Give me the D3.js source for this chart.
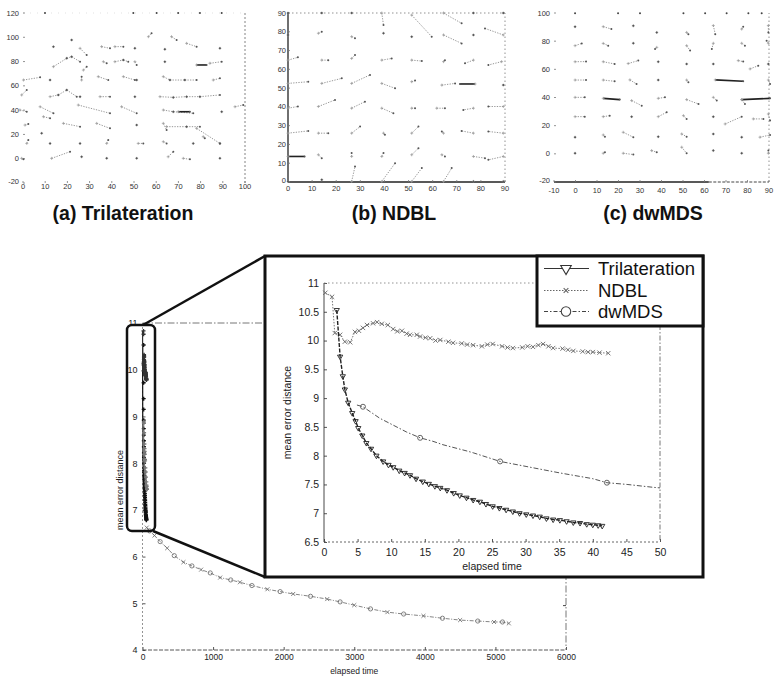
<!DOCTYPE html>
<html><head><meta charset="utf-8">
<script src="https://cdn.jsdelivr.net/npm/d3@7"></script>
<style>body{margin:0;background:#fff}svg{display:block}</style>
</head><body><svg id="c" width="775" height="678"></svg>
<script>
// ---------------- DATA ----------------
// Top panels: localisation links [trueX, trueY, estimatedX, estimatedY]
const panelATicksX = [0,10,20,30,40,50,60,70,80,90,100];
const panelATicksY = [-20,0,20,40,60,80,100,120];
const panelALinks = [
[21.9,97.8,21.9,97.8],[13.7,92.3,13.7,92.3],[25.7,90.9,28.7,85.4],[35.4,92.3,39.2,90.9],[41.4,92.3,45.2,92.3],[50.4,90.9,50.4,90.9],[63.9,90.1,63.9,90.1],[73.7,95.0,78.2,92.3],[88.7,90.9,88.7,90.9],[56.5,100.5,57.9,103.3],[66.9,100.5,69.2,97.8],
[13.7,75.8,19.7,82.7],[19.7,82.7,21.9,84.0],[21.9,84.0,25.7,79.9],[27.2,73.0,28.7,75.8],[36.2,79.9,37.7,78.6],[41.4,79.9,45.2,81.3],[45.2,81.3,47.4,79.9],[50.4,79.9,51.2,77.2],[63.9,79.9,63.9,79.9],[84.2,78.6,89.5,79.9],
[0.2,64.8,7.7,67.0],[12.2,64.8,12.2,64.8],[26.4,64.8,26.4,67.6],[33.9,67.6,38.4,64.8],[45.2,67.6,50.4,64.8],[51.2,64.8,51.2,64.8],[63.2,67.6,66.2,64.8],[66.2,64.8,72.9,64.8],[72.9,64.8,78.2,64.8],[85.7,64.8,88.7,66.2],
[-0.6,52.5,1.7,56.6],[12.2,51.1,15.9,52.5],[15.9,52.5,19.7,56.6],[19.7,56.6,24.2,51.1],[25.7,51.1,25.7,51.1],[34.7,51.1,39.2,51.1],[50.4,51.1,50.4,51.1],[61.7,51.1,67.7,50.5],[67.7,50.5,73.7,51.1],[73.7,51.1,79.7,51.1],[79.7,51.1,88.7,52.5],
[-1.4,40.1,1.7,38.7],[7.7,42.8,13.7,37.4],[24.9,44.2,39.2,37.4],[44.4,42.8,51.2,37.4],[63.2,40.1,67.7,38.7],[67.7,38.7,76.7,37.4],[89.5,38.7,89.5,38.7],[95.5,42.8,99.2,44.2],
[0.9,27.7,2.4,28.6],[9.2,34.6,12.2,33.3],[18.2,29.1,25.7,26.4],[33.2,29.1,39.2,25.0],[51.2,27.7,51.2,27.7],[63.2,29.1,64.7,23.6],[64.7,26.4,73.7,26.4],[73.7,26.4,79.7,26.4],[78.2,25.0,88.7,12.6],
[1.7,12.6,2.4,15.4],[8.4,20.9,8.4,20.9],[12.2,12.6,12.2,12.6],[25.7,12.6,25.7,12.6],[37.7,12.6,38.4,15.4],[51.9,12.6,54.2,12.6],[63.2,14.0,64.7,12.6],[76.7,12.6,76.7,12.6],[81.2,18.1,81.9,16.8],[88.7,12.6,88.7,12.6],
[-0.6,0.3,0.2,-0.5],[12.9,0.3,21.2,5.8],[26.4,1.6,26.4,1.6],[37.7,0.3,37.7,0.3],[51.2,0.3,51.2,0.3],[65.4,1.6,67.7,5.8],[72.2,0.3,75.2,-0.5],[88.7,0.3,88.7,0.3]
];
const panelAStrong = [[78.2,77.2,82.7,77.2],[69.9,38.7,75.2,38.7]];
const panelAEdge = [[9.9,120],[49.7,120],[60.2,120],[69.9,120],[79.7,120],[89.5,120]];

const panelBTicksX = [0,10,20,30,40,50,60,70,80,90];
const panelBTicksY = [0,10,20,30,40,50,60,70,80,90];
const panelBLinks = [
[0,90,0,90],[14,90,14,90],[26.4,90,26.4,90],[38.9,90,39.6,83.6],[51.3,88.9,59.6,77.4],[64.5,90,72,84.5],[76.9,90,76.9,90],[89.3,90,89.3,90],
[0,78.3,0,78.3],[12.6,79.2,14,80],[26.4,77.4,27.8,76.5],[39.6,79.2,39.6,79.2],[51.3,77.4,51.3,77.4],[64.5,78.3,72,73.8],[76.9,78.3,76.9,78.3],[89.3,78.3,81.7,81.8],
[0,64.9,4.1,66.4],[14,64.9,16.7,64.9],[26.4,65.8,27.8,67.6],[38.9,64.9,43,65.8],[51.3,64.9,55.5,64.4],[64.5,64.1,65.1,64.9],[76.9,64.9,73.4,63.2],[88.6,64.1,83.1,62.3],
[0,52.5,8.4,53.4],[14,52.5,22.3,55.2],[26.4,52.5,34,57],[38.9,52.5,44.4,49.9],[51.3,53.4,52.7,54],[63.8,51.6,69.3,52.5],[89.3,51.6,89.3,51.6],
[0,39.3,4.1,40.2],[12.6,40.2,19.5,43.7],[26.4,39.3,31.9,42.8],[38.9,39.3,43.7,36.6],[51.3,39.3,52.7,39.3],[61.7,39.3,65.1,39.3],[76.9,39.3,72.7,38.4],[89.3,40.2,83.1,40.2],
[0,26,8.4,27.2],[12.6,26,16.7,26],[26.4,26,29.9,29.5],[39.6,26,40.2,25.1],[51.3,26,54.1,29.5],[64.5,26,63.8,26.9],[76.9,26,72,27.2],[89.3,26,83.1,26.9],
[12.6,14.5,14,12.7],[26.4,13.6,26.4,15.4],[38.9,13.6,39.6,15.4],[51.3,14.5,54.1,18],[63.8,14.5,65.1,13.6],[76.9,13.6,81.7,12.7],[89.3,13.6,83.1,11.8],
[0,0.3,0,0.3],[14,1.2,14,1.2],[26.4,0.3,27.8,8.3],[38.9,0.3,44.4,10],[51.3,0.3,55.5,7.4],[64.5,0.3,67.9,7.4],[76.9,0.3,76.9,0.3],[89.3,0.3,89.3,0.3]
];
const panelBStrong = [[77.6,52.2,71.3,52.2],[0,13.6,6.9,13.6]];
const panelBEdge = [];

const panelCTicksX = [-10,0,10,20,30,40,50,60,70,80,90];
const panelCTicksY = [-20,0,20,40,60,80,100];
const panelCLinks = [
[-0.2,90.3,-0.2,90.3],[12.9,90.3,16.7,88.6],[26.9,90.9,26.9,90.9],[37.8,86.2,37.8,86.2],[51.7,86.2,52.5,85.0],[64.1,91.1,65.0,85.0],[77.3,88.6,78.0,90.3],[89.7,91.1,89.7,86.2],
[-0.2,76.8,2.9,78.4],[12.9,78.4,15.2,76.8],[26.9,78.5,26.9,78.5],[37.8,75.6,37.0,74.5],[51.7,76.8,53.3,73.3],[64.1,78.5,63.4,74.5],[77.3,78.5,78.8,76.8],[89.7,78.5,88.9,80.3],
[-0.2,65.4,4.9,65.5],[12.9,65.4,18.2,63.8],[24.5,64.1,29.2,66.2],[38.5,65.4,38.5,65.4],[51.7,63.8,51.7,63.8],[64.1,63.8,64.1,63.8],[75.7,66.2,78.0,65.5],[81.2,60.3,85.0,62.6],[89.7,63.8,89.7,63.8],
[-0.2,52.4,4.9,52.4],[12.9,52.4,18.2,51.5],[25.3,52.5,28.4,49.6],[38.5,52.4,38.5,52.4],[51.7,52.4,52.5,50.8],[89.7,52.4,90.5,49.6],
[-0.2,40.1,4.3,40.1],[26.1,37.8,30.8,34.2],[38.5,39.4,41.6,40.1],[51.7,38.5,57.2,35.4],[64.1,40.1,65.7,37.8],[77.3,38.5,78.8,35.4],
[-0.2,26.4,4.3,26.4],[12.9,26.4,15.9,27.1],[26.1,26.4,26.1,26.4],[38.5,26.4,42.4,29.5],[50.2,27.1,51.7,24.8],[64.1,26.4,64.1,26.4],[69.6,21.2,77.3,26.4],[82.7,24.8,87.4,24.8],[89.7,28.3,90.5,23.6],
[-0.2,11.8,-0.2,11.8],[12.9,13.4,13.7,12.2],[22.2,15.3,26.9,11.8],[38.5,12.2,38.5,12.2],[49.4,14.1,51.7,12.2],[64.1,14.1,64.1,14.1],[77.3,11.8,77.3,11.8],[85.8,11.8,90.5,13.4],
[-0.2,0.4,-0.2,0.4],[12.9,0.4,13.7,1.2],[22.2,0.4,26.9,-0.5],[35.4,2.3,37.8,1.2],[49.4,4.7,51.7,0.4],[64.1,2.3,64.1,2.3],[77.3,0.4,77.3,0.4],[89.7,0.4,89.7,2.3]
];
const panelCStrong = [[65.0,52.5,78.0,51.5],[12.9,39.4,20.6,38.5],[77.3,38.5,90.5,39.4]];
const panelCEdge = [[-0.2,99.8],[19.8,99.8],[30,99.8],[50.2,99.8],[60.3,99.8],[70.3,99.8],[80.4,99.8],[86.6,99.8]];

const panelTitles = ["(a) Trilateration", "(b) NDBL", "(c) dwMDS"];

// Bottom chart: mean error distance vs elapsed time
const seriesNames = ["Trilateration", "NDBL", "dwMDS"];
const trilaterationSeries = [[1.9,10.53],[2.4,9.72],[2.8,9.38],[3.1,9.15],[3.6,8.92],[4.2,8.74],[4.7,8.6],[5.1,8.48],[5.7,8.35],[6.3,8.22],[7.0,8.12],[7.8,8.0],[8.8,7.9],[9.6,7.84],[10.3,7.8],[11.2,7.74],[12.0,7.7],[12.8,7.66],[13.7,7.6],[14.7,7.55],[15.6,7.51],[16.5,7.47],[17.3,7.44],[18.3,7.4],[19.3,7.35],[20.2,7.31],[21.2,7.27],[22.2,7.23],[23.2,7.2],[24.1,7.16],[25.1,7.12],[26.1,7.09],[27.1,7.06],[28.1,7.03],[29.1,7.0],[30.1,6.98],[31.1,6.96],[32.1,6.94],[33.1,6.91],[34.1,6.89],[35.1,6.88],[36.1,6.86],[37.1,6.84],[38.1,6.83],[39.1,6.81],[40.0,6.8],[40.8,6.79],[41.4,6.78]];
const ndblSeries = [[0.2,10.83],[1.2,10.76],[1.6,10.13],[2.4,10.1],[3.1,9.98],[3.9,9.97],[4.6,10.15],[5.2,10.17],[5.8,10.22],[6.4,10.27],[7.3,10.3],[7.9,10.32],[8.6,10.29],[9.5,10.27],[10.3,10.2],[10.9,10.16],[11.6,10.17],[12.3,10.12],[12.8,10.1],[13.8,10.1],[14.3,10.07],[15.1,10.05],[15.8,10.04],[16.6,10.0],[17.3,10.01],[18.5,9.98],[19.2,9.96],[20.5,9.95],[21.3,9.93],[22.2,9.92],[23.5,9.9],[24.3,9.93],[25.1,9.94],[26.5,9.9],[27.3,9.88],[28.1,9.87],[29.5,9.88],[30.3,9.9],[31.1,9.89],[31.9,9.92],[32.6,9.94],[33.4,9.9],[34.1,9.87],[35.5,9.86],[36.3,9.84],[37.1,9.82],[38.5,9.81],[39.3,9.8],[40,9.8],[41,9.79],[42.3,9.78]];
const dwmdsSeries = [[4.9,8.88],[5.8,8.85],[8.3,8.65],[12.3,8.41],[14.3,8.31],[16.2,8.25],[17.7,8.19],[21.3,8.08],[22.2,8.05],[26.2,7.9],[30.2,7.81],[35.1,7.7],[40,7.6],[42.1,7.53],[45.1,7.5],[49,7.45],[50,7.44]];
const dwmdsMarked = [[5.8,8.85],[14.3,8.31],[26.2,7.9],[42.1,7.53]];
const longRunSeries = [[60,6.62],[100,6.55],[170,6.45],[250,6.32],[350,6.18],[450,6.02],[580,5.88],[700,5.8],[830,5.72],[960,5.65],[1100,5.55],[1250,5.5],[1380,5.45],[1550,5.38],[1770,5.3],[1950,5.25],[2135,5.2],[2380,5.15],[2617,5.09],[2800,5.03],[3000,4.96],[3230,4.88],[3470,4.81],[3700,4.77],[3980,4.73],[4250,4.68],[4500,4.64],[4750,4.62],[4980,4.6],[5100,4.6],[5190,4.57]];

const mainTicksX = [0,1000,2000,3000,4000,5000,6000];
const mainTicksY = [4,5,6,7,8,9,10,11];
const insetTicksX = [0,5,10,15,20,25,30,35,40,45,50];
const insetTicksY = [6.5,7,7.5,8,8.5,9,9.5,10,10.5,11];
const axisTitleX = "elapsed time";
const axisTitleY = "mean error distance";

// ---------------- DRAWING ----------------
const FONT = "Arial, 'Liberation Sans', sans-serif";
const svg = d3.select("#c").attr("font-family", FONT);

function topPanel(o) {
  const g = svg.append("g");
  const x = o.x, y = o.y;
  const [x0, x1] = x.range(), [yb, yt] = y.range();
  o.borders.forEach(b => {
    g.append("line").attr("x1", b.x1).attr("y1", b.y1).attr("x2", b.x2).attr("y2", b.y2)
      .attr("stroke", b.c).attr("stroke-width", b.w).attr("stroke-dasharray", b.d || null);
  });
  o.ticksX.forEach(t => {
    g.append("line").attr("x1", x(t)).attr("x2", x(t)).attr("y1", yb).attr("y2", yb - 2).attr("stroke", "#777").attr("stroke-width", 0.8);
    g.append("text").attr("x", x(t)).attr("y", o.xLabelY).attr("text-anchor", "middle")
      .attr("font-size", 7.5).attr("fill", "#333").text(String(t));
  });
  o.ticksY.forEach(t => {
    g.append("line").attr("x1", x0).attr("x2", x0 + 2).attr("y1", y(t)).attr("y2", y(t)).attr("stroke", "#777").attr("stroke-width", 0.8);
    g.append("text").attr("x", o.yLabelX).attr("y", y(t) + (t === o.ticksY[0] ? 1 : 2.6)).attr("text-anchor", "end")
      .attr("font-size", 7.5).attr("fill", "#333").text(String(t));
  });
  g.selectAll(".lk").data(o.links.filter(d => d[0] !== d[2] || d[1] !== d[3])).join("line")
    .attr("x1", d => x(d[0])).attr("y1", d => y(d[1])).attr("x2", d => x(d[2])).attr("y2", d => y(d[3]))
    .attr("stroke", "#8c8c8c").attr("stroke-width", 0.9).attr("stroke-dasharray", "1.3,1.3");
  g.selectAll(".st").data(o.strong).join("line")
    .attr("x1", d => x(d[0])).attr("y1", d => y(d[1])).attr("x2", d => x(d[2])).attr("y2", d => y(d[3]))
    .attr("stroke", "#222").attr("stroke-width", 1.6);
  g.selectAll(".tn").data(o.links.concat(o.strong)).join("path")
    .attr("d", d => `M${x(d[0]) - 1.5},${y(d[1])}h3M${x(d[0])},${y(d[1]) - 1.5}v3`)
    .attr("stroke", "#999").attr("stroke-width", 0.7);
  g.selectAll(".en").data(o.links.concat(o.strong)).join("circle")
    .attr("cx", d => x(d[2])).attr("cy", d => y(d[3])).attr("r", 1).attr("fill", "#555");
  g.selectAll(".ed").data(o.edge).join("circle")
    .attr("cx", d => x(d[0])).attr("cy", d => y(d[1])).attr("r", 1).attr("fill", "#444");
  svg.append("text").attr("x", o.titleX).attr("y", 220).attr("text-anchor", "middle")
    .attr("font-size", 19.5).attr("font-weight", "bold").attr("fill", "#111").text(o.title);
}

const ax = d3.scaleLinear([0, 100], [23, 245]), ay = d3.scaleLinear([-20, 120], [183, 13]);
topPanel({x: ax, y: ay, ticksX: panelATicksX, ticksY: panelATicksY, links: panelALinks, strong: panelAStrong, edge: panelAEdge,
  xLabelY: 189, yLabelX: 19, title: panelTitles[0], titleX: 123,
  borders: [{x1: ax(100), y1: ay(120), x2: ax(100), y2: ay(-20), c: "#666", w: 0.8, d: "2,2"},
            {x1: ax(0), y1: ay(120), x2: ax(100), y2: ay(120), c: "#ccc", w: 0.6, d: "1,6"}]});

const bx = d3.scaleLinear([0, 90], [288, 505]), by = d3.scaleLinear([0, 90], [182, 13]);
topPanel({x: bx, y: by, ticksX: panelBTicksX, ticksY: panelBTicksY, links: panelBLinks, strong: panelBStrong, edge: panelBEdge,
  xLabelY: 191, yLabelX: 286, title: panelTitles[1], titleX: 394,
  borders: [{x1: bx(0), y1: by(0), x2: bx(0), y2: by(90), c: "#222", w: 1.3},
            {x1: bx(0), y1: by(0), x2: bx(90), y2: by(0), c: "#222", w: 1.5},
            {x1: bx(0), y1: by(90), x2: bx(90), y2: by(90), c: "#777", w: 0.8, d: "1.5,2.5"},
            {x1: bx(90), y1: by(0), x2: bx(90), y2: by(90), c: "#777", w: 0.8, d: "1.5,2.5"}]});

const cx = d3.scaleLinear([-10, 90], [554, 769]), cy = d3.scaleLinear([-20, 100], [182, 13]);
topPanel({x: cx, y: cy, ticksX: panelCTicksX, ticksY: panelCTicksY, links: panelCLinks, strong: panelCStrong, edge: panelCEdge,
  xLabelY: 193, yLabelX: 550, title: panelTitles[2], titleX: 653,
  borders: [{x1: cx(-10), y1: cy(-20), x2: cx(62), y2: cy(-20), c: "#222", w: 1.4},
            {x1: cx(62), y1: cy(-20), x2: cx(90), y2: cy(-20), c: "#444", w: 1, d: "3,1.5"},
            {x1: cx(90), y1: cy(-20), x2: cx(90), y2: cy(100), c: "#777", w: 0.8, d: "1.5,2.5"}]});

// ---------- main chart ----------
const mx = d3.scaleLinear([0, 6000], [142.5, 566]);
const my = d3.scaleLinear([4, 11], [650, 323]);
const main = svg.append("g");

main.append("g").attr("transform", "translate(0,650)")
  .call(d3.axisBottom(mx).tickValues(mainTicksX).tickSize(-3).tickPadding(4).tickFormat(d => String(d)))
  .call(g => g.select(".domain").remove())
  .call(g => g.selectAll("line").attr("stroke", "#555"))
  .call(g => g.selectAll("text").attr("font-size", 8.5).attr("fill", "#222").attr("font-family", FONT));
main.append("g").attr("transform", "translate(142.5,0)")
  .call(d3.axisLeft(my).tickValues(mainTicksY).tickSize(-3).tickPadding(5).tickFormat(d => String(d)))
  .call(g => g.select(".domain").remove())
  .call(g => g.selectAll("line").attr("stroke", "#555"))
  .call(g => g.selectAll("text").attr("font-size", 9).attr("fill", "#222").attr("font-family", FONT));

main.append("line").attr("x1", mx(0)).attr("x2", mx(0)).attr("y1", my(11)).attr("y2", my(4)).attr("stroke", "#888").attr("stroke-width", 0.9).attr("stroke-dasharray", "2,2");
main.append("line").attr("x1", mx(0)).attr("x2", mx(6000)).attr("y1", my(4)).attr("y2", my(4)).attr("stroke", "#444").attr("stroke-width", 0.9).attr("stroke-dasharray", "4,1.5");
main.append("line").attr("x1", mx(0)).attr("x2", mx(6000)).attr("y1", my(11)).attr("y2", my(11)).attr("stroke", "#666").attr("stroke-width", 0.9).attr("stroke-dasharray", "7,2,1.5,2");
main.append("line").attr("x1", mx(6000)).attr("x2", mx(6000)).attr("y1", my(11)).attr("y2", my(4)).attr("stroke", "#666").attr("stroke-width", 0.9).attr("stroke-dasharray", "7,2,1.5,2");
main.append("line").attr("x1", mx(6000)).attr("x2", mx(6000) - 3).attr("y1", my(4.95)).attr("y2", my(4.95)).attr("stroke", "#444");

main.append("text").attr("x", (mx(0) + mx(6000)) / 2).attr("y", 674).attr("text-anchor", "middle")
  .attr("font-size", 8.5).attr("fill", "#222").text(axisTitleX);
main.append("text").attr("transform", "translate(123,490) rotate(-90)").attr("text-anchor", "middle")
  .attr("font-size", 9).attr("fill", "#222").text(axisTitleY);

const lineM = d3.line().x(d => mx(d[0])).y(d => my(d[1]));
main.append("path").attr("d", lineM(longRunSeries)).attr("fill", "none").attr("stroke", "#777").attr("stroke-width", 0.9).attr("stroke-dasharray", "4,1.5,1,1.5");
main.selectAll(".lm").data(longRunSeries).join("path")
  .attr("d", (d, i) => i % 2 ? d3.symbol(d3.symbolCircle, 14)() : d3.symbol(d3.symbolX, 12)())
  .attr("transform", d => `translate(${mx(d[0])},${my(d[1])})`)
  .attr("fill", "none").attr("stroke", "#666").attr("stroke-width", 0.8);
[[trilaterationSeries, "#111"], [ndblSeries, "#333"], [dwmdsSeries, "#777"]].forEach(([s, c]) => {
  main.append("path").attr("d", lineM(s)).attr("fill", "none").attr("stroke", c).attr("stroke-width", 1.2);
  main.selectAll(null).data(s).join("path")
    .attr("d", d3.symbol(d3.symbolCross, 9)())
    .attr("transform", d => `translate(${mx(d[0]) + 1},${my(d[1])})`)
    .attr("fill", c);
});

main.append("rect").attr("x", 127).attr("y", 325).attr("width", 28).attr("height", 206).attr("rx", 5)
  .attr("fill", "none").attr("stroke", "#111").attr("stroke-width", 2.5);
main.append("line").attr("x1", 143).attr("y1", 325).attr("x2", 265).attr("y2", 256).attr("stroke", "#111").attr("stroke-width", 2.5);
main.append("line").attr("x1", 153).attr("y1", 531).attr("x2", 265).attr("y2", 577).attr("stroke", "#111").attr("stroke-width", 2.5);

// ---------- inset ----------
const inset = svg.append("g");
inset.append("rect").attr("x", 265).attr("y", 256).attr("width", 438).attr("height", 321)
  .attr("fill", "#fff").attr("stroke", "#111").attr("stroke-width", 3);
const ix = d3.scaleLinear([0, 50], [324, 660]);
const iy = d3.scaleLinear([6.5, 11], [542, 283]);

inset.append("g").attr("transform", "translate(0,542)")
  .call(d3.axisBottom(ix).tickValues(insetTicksX).tickSize(-3).tickPadding(7).tickFormat(d => String(d)))
  .call(g => g.select(".domain").remove())
  .call(g => g.selectAll("line").attr("stroke", "#555"))
  .call(g => g.selectAll("text").attr("font-size", 10.5).attr("fill", "#222").attr("font-family", FONT));
inset.append("g").attr("transform", "translate(324,0)")
  .call(d3.axisLeft(iy).tickValues(insetTicksY).tickSize(-3).tickPadding(5).tickFormat(d => String(d)))
  .call(g => g.select(".domain").remove())
  .call(g => g.selectAll("line").attr("stroke", "#555"))
  .call(g => g.selectAll("text").attr("font-size", 10.5).attr("fill", "#222").attr("font-family", FONT));
inset.append("line").attr("x1", ix(0)).attr("x2", ix(0)).attr("y1", iy(11)).attr("y2", iy(6.5)).attr("stroke", "#333").attr("stroke-width", 0.9);
inset.append("line").attr("x1", ix(0)).attr("x2", ix(50)).attr("y1", iy(6.5)).attr("y2", iy(6.5)).attr("stroke", "#555").attr("stroke-width", 0.9).attr("stroke-dasharray", "2,2");
inset.append("line").attr("x1", ix(0)).attr("x2", ix(50)).attr("y1", iy(11)).attr("y2", iy(11)).attr("stroke", "#888").attr("stroke-width", 0.9).attr("stroke-dasharray", "1.5,2.5");
inset.append("line").attr("x1", ix(50)).attr("x2", ix(50)).attr("y1", iy(11)).attr("y2", iy(6.5)).attr("stroke", "#666").attr("stroke-width", 0.9).attr("stroke-dasharray", "5,2,1.5,2");

inset.append("text").attr("x", (ix(0) + ix(50)) / 2).attr("y", 570).attr("text-anchor", "middle")
  .attr("font-size", 10.5).attr("fill", "#222").text(axisTitleX);
inset.append("text").attr("transform", `translate(291,${(iy(6.5) + iy(11)) / 2}) rotate(-90)`).attr("text-anchor", "middle")
  .attr("font-size", 10.5).attr("fill", "#222").text(axisTitleY);

const lineI = d3.line().x(d => ix(d[0])).y(d => iy(d[1]));
inset.append("path").attr("d", lineI(ndblSeries)).attr("fill", "none").attr("stroke", "#777").attr("stroke-width", 1).attr("stroke-dasharray", "1.5,1.5");
inset.selectAll(".nm").data(ndblSeries).join("path")
  .attr("d", d3.symbol(d3.symbolX, 14)()).attr("transform", d => `translate(${ix(d[0])},${iy(d[1])})`)
  .attr("fill", "none").attr("stroke", "#666").attr("stroke-width", 0.9);
inset.append("path").attr("d", lineI(dwmdsSeries)).attr("fill", "none").attr("stroke", "#555").attr("stroke-width", 1).attr("stroke-dasharray", "5,2,1.5,2");
inset.selectAll(".dm").data(dwmdsMarked).join("circle")
  .attr("cx", d => ix(d[0])).attr("cy", d => iy(d[1])).attr("r", 2.5)
  .attr("fill", "none").attr("stroke", "#555").attr("stroke-width", 0.9);
inset.append("path").attr("d", lineI(trilaterationSeries)).attr("fill", "none").attr("stroke", "#222").attr("stroke-width", 1.4).attr("stroke-dasharray", "4,1.5");
inset.selectAll(".tm").data(trilaterationSeries).join("path")
  .attr("d", d3.symbol(d3.symbolTriangle, 12)()).attr("transform", d => `translate(${ix(d[0])},${iy(d[1])}) rotate(180)`)
  .attr("fill", "none").attr("stroke", "#222").attr("stroke-width", 0.9);

// legend
const leg = svg.append("g");
leg.append("rect").attr("x", 537).attr("y", 256).attr("width", 166).attr("height", 70)
  .attr("fill", "#fff").attr("stroke", "#111").attr("stroke-width", 3);
const legStyles = [
  {dash: null, c: "#333", w: 1.2, sym: d3.symbol(d3.symbolTriangle, 48)(), rot: 180},
  {dash: "1.5,1.5", c: "#666", w: 1, sym: d3.symbol(d3.symbolX, 16)(), rot: 0},
  {dash: "4,2,1.5,2", c: "#444", w: 1, sym: d3.symbol(d3.symbolCircle, 70)(), rot: 0}
];
seriesNames.forEach((name, i) => {
  const yb = [275, 297, 318][i], ym = yb - 6.5, s = legStyles[i];
  leg.append("line").attr("x1", 544).attr("x2", 589).attr("y1", ym).attr("y2", ym)
    .attr("stroke", s.c).attr("stroke-width", s.w).attr("stroke-dasharray", s.dash);
  leg.append("path").attr("d", s.sym).attr("transform", `translate(566,${ym}) rotate(${s.rot})`)
    .attr("fill", "#fff").attr("stroke", s.c).attr("stroke-width", 1.1);
  leg.append("text").attr("x", 598).attr("y", yb).attr("font-size", 18.5).attr("fill", "#111").text(name);
});
</script></body></html>
